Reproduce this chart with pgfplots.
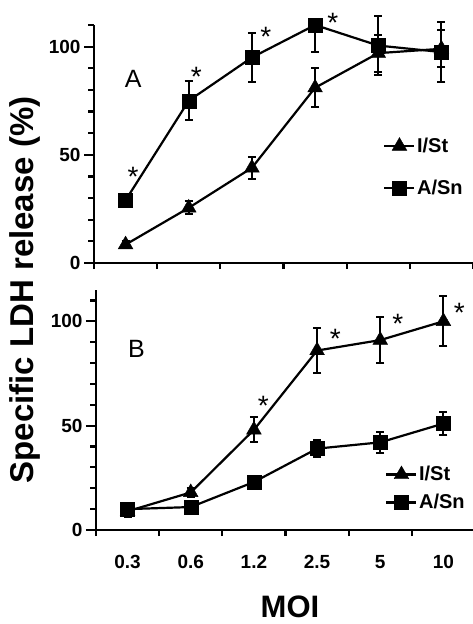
\documentclass[border=0pt]{standalone}
\usepackage{fontspec}
\setmainfont{Liberation Sans}
\usepackage{pgfplots}
\usepackage{pgfplotstable}
\pgfplotsset{compat=1.18}

% panel A: MOI category at x = index + 0.5
\pgfplotstableread{
x    y     ep   em
0.5  8.5   1.5  1.5
1.5  25.5  3    3
2.5  44    5    5
3.5  81    9    9
4.5  97    8.5  8.5
5.5  99    8.5  8.5
}\aIst
\pgfplotstableread{
x    y     ep   em
0.5  29    2.5  2.5
1.5  75    9    9
2.5  95    11.5 11.5
3.5  110   0    12.3
4.5  100.5 13.5 13.5
5.5  97.5  14   14
}\aAsn
% panel B
\pgfplotstableread{
x    y    ep   em
0.5  9    3    3
1.5  18   2    2
2.5  48   6    6
3.5  86   11   11
4.5  91   11   11
5.5  100  12   12
}\bIst
\pgfplotstableread{
x    y    ep   em
0.5  10   3    3
1.5  11   2    2
2.5  23   1.5  1.5
3.5  39   4    4
4.5  42   5    5
5.5  51   5.5  5.5
}\bAsn

\tikzset{sigstar/.style={font=\fontsize{28}{28}\selectfont, yshift=-6.5pt}}

\pgfplotsset{
  panel/.style={
    scale only axis, width=379pt,
    xmin=0, xmax=6, clip=false,
    axis x line*=bottom, axis y line*=left,
    axis line style={line width=2.8pt, -},
    tick align=outside,
    every tick/.style={black, line width=2.2pt},
    major tick length=10pt, minor tick length=6pt,
    xtick={0.5,1.5,...,5.5}, minor xtick={0,...,6},
    major x tick style={draw=none},
    ytick={0,50,100}, minor ytick={10,20,...,110},
    /pgf/number format/assume math mode=true,
    ticklabel style={font=\bfseries\fontsize{19}{19}\selectfont},
    xticklabel style={yshift=-12pt},
    legend style={draw=none, fill=none, inner sep=0pt,
      font=\bfseries\fontsize{20}{20}\selectfont,
      cells={anchor=west}, nodes={inner sep=1.5pt}},
    legend image code/.code={
      \draw[mark repeat=2,mark phase=2,##1] plot coordinates {(0pt,0pt) (15pt,0pt) (30pt,0pt)};},
  },
  ebar/.style={black, line width=2.2pt, mark options={solid, line width=0.4pt},
    error bars/y dir=both, error bars/y explicit,
    error bars/error bar style={line width=2pt},
    error bars/error mark options={rotate=90, mark size=4pt, line width=2pt}},
  tri/.style={ebar, mark=triangle*, mark size=8.5pt},
  sq/.style={ebar, mark=square*, mark size=7pt},
}

\begin{document}
\begin{tikzpicture}
\useasboundingbox (0,0) rectangle (472pt,-624pt);

\begin{axis}[panel, at={(94pt,-263pt)}, anchor=south west,
  height=238pt, ymin=0, ymax=110, xticklabels={},
  legend style={at={(0.763,0.403)}, anchor=west, row sep=23pt}]
\addplot[tri] table[x=x, y=y, y error plus=ep, y error minus=em] {\aIst};
\addlegendentry{I/St}
\addplot[sq] table[x=x, y=y, y error plus=ep, y error minus=em] {\aAsn};
\addlegendentry{A/Sn}
\node[sigstar] at (axis cs:0.62,43) {*};
\node[sigstar] at (axis cs:1.62,89) {*};
\node[sigstar] at (axis cs:2.72,107.5) {*};
\node[sigstar] at (axis cs:3.78,114) {*};
\node[font=\fontsize{25}{25}\selectfont] at (axis cs:0.62,85) {A};
\end{axis}

\begin{axis}[panel, at={(96pt,-530pt)}, anchor=south west,
  height=240pt, ymin=0, ymax=115,
  xticklabels={0.3,0.6,1.2,2.5,5,10},
  legend style={at={(0.763,0.173)}, anchor=west, row sep=9pt}]
\addplot[tri] table[x=x, y=y, y error plus=ep, y error minus=em] {\bIst};
\addlegendentry{I/St}
\addplot[sq] table[x=x, y=y, y error plus=ep, y error minus=em] {\bAsn};
\addlegendentry{A/Sn}
\node[sigstar] at (axis cs:2.65,62.5) {*};
\node[sigstar] at (axis cs:3.79,94.7) {*};
\node[sigstar] at (axis cs:4.78,102) {*};
\node[sigstar] at (axis cs:5.75,107) {*};
\node[font=\fontsize{25}{25}\selectfont] at (axis cs:0.64,87) {B};
\end{axis}

\node[rotate=90, font=\bfseries\fontsize{33}{33}\selectfont] at (25pt,-290pt) {Specific LDH release (\%)};
\node[font=\bfseries\fontsize{31}{31}\selectfont] at (290pt,-607pt) {MOI};
\end{tikzpicture}
\end{document}
